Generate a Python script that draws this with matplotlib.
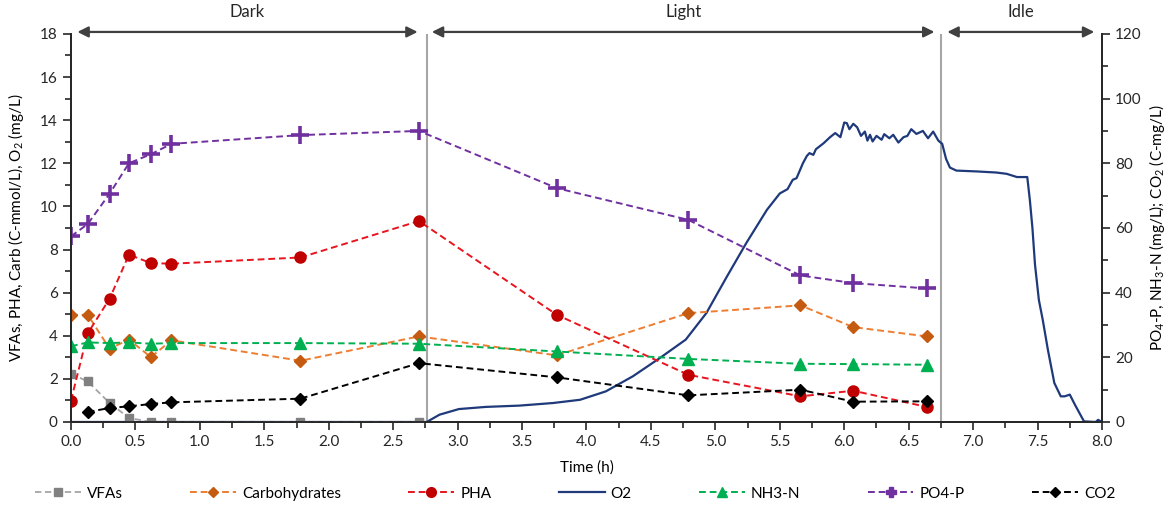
import numpy as np
import matplotlib
matplotlib.use('Agg')
import matplotlib.pyplot as plt
from matplotlib.ticker import MultipleLocator
from matplotlib.lines import Line2D

plt.rcParams['font.family'] = ['Lato', 'DejaVu Sans']
plt.rcParams['mathtext.fontset'] = 'custom'
plt.rcParams['mathtext.rm'] = 'Lato'

# ── DATA ──
t_samp = [0.0, 0.13, 0.30, 0.45, 0.62, 0.78, 1.78, 2.70,
          3.77, 4.79, 5.66, 6.07, 6.64]
vfas = [2.24, 1.88, 0.88, 0.19, 0.0, 0.0, 0.0, 0.0]
carb = [4.97, 4.97, 3.40, 3.82, 3.01, 3.79, 2.84, 3.97,
        3.09, 5.05, 5.41, 4.40, 3.97]
pha = [0.99, 4.11, 5.72, 7.76, 7.37, 7.34, 7.63, 9.32,
       4.97, 2.19, 1.19, 1.45, 0.70]
nh3 = [23.4, 24.6, 24.4, 24.6, 24.2, 24.4, 24.4, 24.2,
       21.8, 19.5, 18.0, 17.9, 17.7]
po4 = [57.4, 61.2, 70.6, 80.0, 82.8, 86.0, 88.7, 90.0,
       72.3, 62.5, 45.3, 42.95, 41.3]
co2 = [3.09, 4.33, 4.84, 5.56, 6.08, 7.21, 18.2,
       13.8, 8.24, 9.99, 6.28, 6.39]

# O2 probe trace
t_o2 = [0.0, 2.76, 2.86, 3.01, 3.22, 3.48, 3.74, 3.95, 4.15, 4.36,
        4.57, 4.77, 4.93, 5.09, 5.24, 5.40, 5.50, 5.56, 5.60, 5.63,
        5.68, 5.71, 5.73, 5.76, 5.78, 5.84, 5.89, 5.93, 5.97, 6.00,
        6.02, 6.04, 6.07, 6.10, 6.13, 6.16, 6.18, 6.20, 6.22, 6.25,
        6.29, 6.31, 6.35, 6.38, 6.42, 6.46, 6.49, 6.52, 6.56, 6.61,
        6.65, 6.69, 6.73, 6.76, 6.79, 6.82, 6.87, 7.03, 7.18, 7.26,
        7.34, 7.42, 7.44, 7.46, 7.48, 7.51, 7.54, 7.58, 7.63, 7.68,
        7.71, 7.75, 7.79, 7.86, 7.95, 7.97, 8.0]
o2 = [0.0, 0.0, 0.34, 0.60, 0.70, 0.76, 0.88, 1.03, 1.42, 2.12,
      2.97, 3.82, 5.05, 6.75, 8.30, 9.84, 10.6, 10.8, 11.23, 11.31,
      12.01, 12.34, 12.47, 12.39, 12.65, 12.93, 13.21, 13.40, 13.21, 13.89,
      13.86, 13.58, 13.83, 13.67, 13.27, 13.47, 13.05, 13.32, 13.01, 13.27,
      13.09, 13.35, 13.16, 13.32, 12.96, 13.21, 13.27, 13.58, 13.36, 13.50,
      13.16, 13.47, 13.05, 12.90, 12.20, 11.80, 11.66, 11.62, 11.57, 11.51,
      11.36, 11.36, 10.30, 9.0, 7.3, 5.66, 4.74, 3.35, 1.81, 1.19,
      1.19, 1.27, 0.80, 0.03, 0.0, 0.10, 0.0]

phase_edges = [2.76, 6.75]
phase_names = ['Dark', 'Light', 'Idle']
phase_spans = [(0.05, 2.69), (2.80, 6.70), (6.80, 7.94)]

# ── CHART ──
fig = plt.figure(figsize=(11.69, 5.08), dpi=100)
ax = fig.add_axes([0.0607, 0.1693, 0.882, 0.764])
ax2 = ax.twinx()

fs = 11
dash = (3.5, 2)

for x in phase_edges:
    ax.axvline(x, color='#A6A6A6', lw=1.5, zorder=1)

ax.plot(t_o2, o2, color='#1F3A7A', lw=1.6, zorder=3, label='O2')
ax.plot(t_samp[:8], vfas, color='#A5A5A5', ls='--', dashes=dash, lw=1.3,
        marker='s', ms=6, mfc='#808080', mec='#808080', zorder=4,
        label='VFAs')
ax.plot(t_samp, carb, color='#ED7D31', ls='--', dashes=dash, lw=1.4,
        marker='D', ms=6.5, mfc='#C55A11', mec='#C55A11', zorder=4,
        label='Carbohydrates')
ax.plot(t_samp, pha, color='#E8141E', ls='--', dashes=dash, lw=1.4,
        marker='o', ms=8, mfc='#C00000', mec='#C00000', zorder=4,
        label='PHA')

ax2.plot(t_samp, nh3, color='#00B050', ls='--', dashes=dash, lw=1.4,
         marker='^', ms=8, mfc='#00B050', mec='#00B050', label='NH3-N')
ax2.plot(t_samp, po4, color='#7030A0', ls='--', dashes=dash, lw=1.4)
ax2.plot(t_samp, po4, ls='none', marker='+', ms=13, mew=2.6,
         color='#7030A0')
ax2.plot(t_samp[1:], co2, color='black', ls='--', dashes=dash, lw=1.4,
         marker='D', ms=6.5, mfc='black', mec='black', label='CO2')

ax.set_xlim(0, 8)
ax.set_ylim(0, 18)
ax2.set_ylim(0, 120)
ax.xaxis.set_major_locator(MultipleLocator(0.5))
ax.xaxis.set_minor_locator(MultipleLocator(0.25))
ax.yaxis.set_major_locator(MultipleLocator(2))
ax.yaxis.set_minor_locator(MultipleLocator(1))
ax2.yaxis.set_major_locator(MultipleLocator(20))
ax2.yaxis.set_minor_locator(MultipleLocator(10))
ax.xaxis.set_major_formatter(lambda v, p: f'{v:.1f}')

for a in (ax, ax2):
    a.spines['top'].set_visible(False)
    a.tick_params(which='major', length=6, width=1.2, labelsize=fs,
                  colors='#262626')
    a.tick_params(which='minor', length=4, width=1.2, colors='#262626')
    for s in a.spines.values():
        s.set_linewidth(1.3)
        s.set_color('#262626')

ax.set_xlabel('Time (h)', fontsize=fs, labelpad=8)
ax.set_ylabel('VFAs, PHA, Carb (C-mmol/L), O$_2$ (mg/L)', fontsize=fs,
              labelpad=10)
ax2.set_ylabel('PO$_4$-P, NH$_3$-N (mg/L); CO$_2$ (C-mg/L)', fontsize=fs,
               labelpad=4)

# phase arrows + labels
for name, (x0, x1) in zip(phase_names, phase_spans):
    ax.annotate('', xy=(x1, 1.005), xytext=(x0, 1.005),
                xycoords=('data', 'axes fraction'),
                arrowprops=dict(arrowstyle='<|-|>', color='#404040',
                                lw=1.6, mutation_scale=16,
                                shrinkA=0, shrinkB=0),
                annotation_clip=False)
    ax.text((x0 + x1) / 2, 1.035, name, transform=ax.get_xaxis_transform(),
            ha='center', va='bottom', fontsize=fs + 1, color='#262626')

# legend
handles = [
    Line2D([], [], color='#A5A5A5', ls='--', dashes=dash, lw=1.3,
           marker='s', ms=6, mfc='#808080', mec='#808080'),
    Line2D([], [], color='#ED7D31', ls='--', dashes=dash, lw=1.4,
           marker='D', ms=5, mfc='#C55A11', mec='#C55A11'),
    Line2D([], [], color='#E8141E', ls='--', dashes=dash, lw=1.4,
           marker='o', ms=7, mfc='#C00000', mec='#C00000'),
    Line2D([], [], color='#1F3A7A', lw=1.6),
    Line2D([], [], color='#00B050', ls='--', dashes=dash, lw=1.4,
           marker='^', ms=7, mfc='#00B050', mec='#00B050'),
    Line2D([], [], color='#7030A0', ls='--', dashes=dash, lw=1.4,
           marker='P', ms=7, mfc='#7030A0', mec='#7030A0'),
    Line2D([], [], color='black', ls='--', dashes=dash, lw=1.4,
           marker='D', ms=5, mfc='black', mec='black'),
]
labels = ['VFAs', 'Carbohydrates', 'PHA', 'O2', 'NH3-N', 'PO4-P', 'CO2']
fig.legend(handles, labels, loc='center', bbox_to_anchor=(0.492, 0.028),
           ncol=7, frameon=False, fontsize=fs, handlelength=3,
           columnspacing=4.4, handletextpad=0.4)

fig.savefig('out.png', dpi=100)
